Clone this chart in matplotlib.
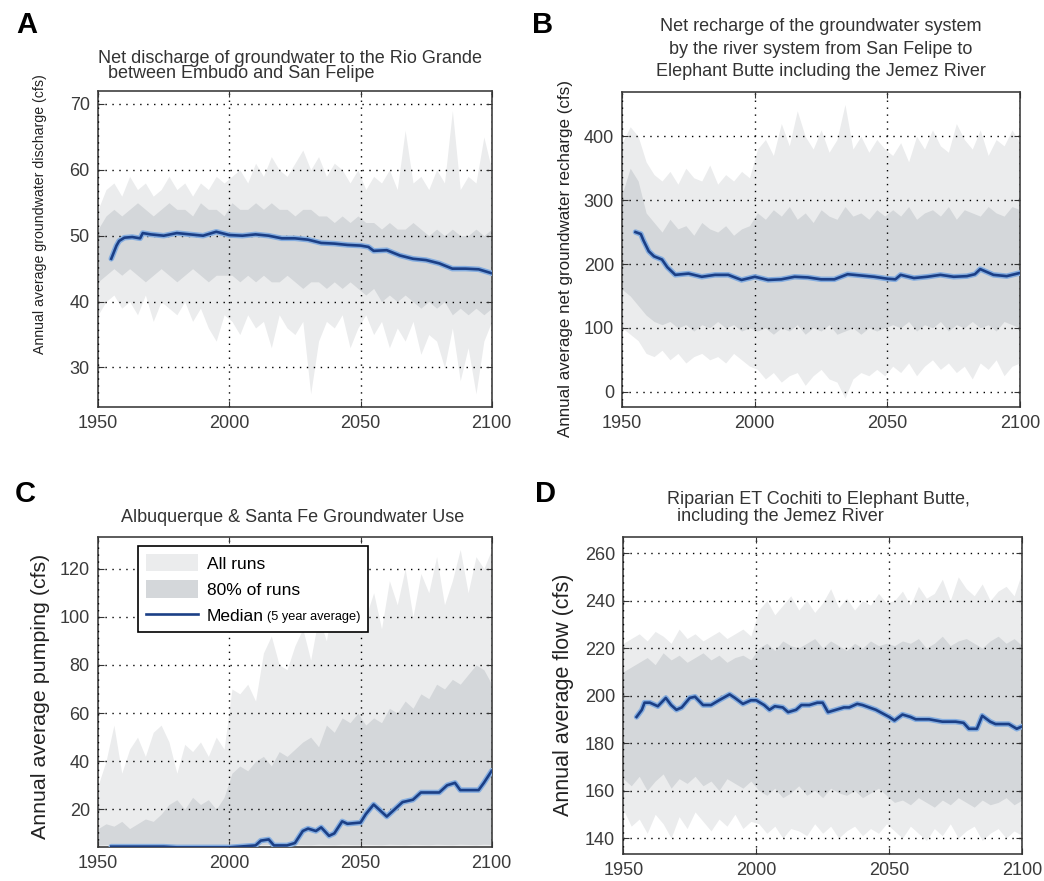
import matplotlib
matplotlib.use("Agg")
import matplotlib.pyplot as plt
import numpy as np

plt.rcParams["font.family"] = ["Liberation Sans", "DejaVu Sans"]

# band years (every 3 years)
years = np.arange(1950, 2101, 3)

# ---- panel A: net discharge of groundwater (cfs)
a_all_hi = [54, 57, 58, 56, 59, 57, 58, 56, 57, 59, 57, 58, 56, 58, 57, 59, 58,
            59, 60, 58, 61, 59, 62, 60, 59, 61, 63, 60, 62, 59, 61, 60, 58, 60,
            57, 59, 58, 60, 57, 66, 58, 59, 57, 60, 58, 69, 57, 59, 58, 65, 60]
a_all_lo = [38, 40, 41, 39, 40, 38, 41, 37, 40, 39, 38, 40, 37, 39, 36, 34, 38,
            37, 35, 38, 36, 37, 33, 38, 36, 35, 37, 26, 34, 37, 36, 38, 33, 36,
            38, 35, 37, 33, 36, 34, 37, 32, 35, 34, 30, 36, 28, 33, 26, 34, 37]
a_p90 = [51, 53, 54, 53, 54, 55, 54, 53, 54, 55, 54, 54, 53, 55, 54, 54, 53,
         55, 54, 54, 55, 54, 55, 54, 54, 53, 54, 54, 53, 53, 52, 53, 52, 53,
         52, 52, 51, 52, 51, 51, 52, 51, 50, 51, 50, 51, 50, 50, 51, 50, 51]
a_p10 = [43, 44, 45, 44, 45, 44, 43, 44, 45, 44, 43, 44, 45, 44, 43, 44, 44,
         44, 43, 44, 43, 44, 43, 43, 44, 43, 42, 43, 43, 42, 43, 42, 43, 42,
         41, 42, 40, 41, 40, 41, 40, 39, 40, 39, 40, 38, 39, 38, 39, 38, 39]
a_med_yr = [1955, 1956, 1957, 1958, 1960, 1963, 1966, 1967, 1970, 1975, 1980, 1985,
            1990, 1995, 2000, 2005, 2010, 2015, 2020, 2025, 2030, 2035, 2040, 2045,
            2050, 2053, 2055, 2060, 2065, 2070, 2075, 2080, 2085, 2090, 2095, 2100]
a_med = [46.5, 47.5, 48.5, 49.2, 49.7, 49.8, 49.6, 50.4, 50.2, 50.0, 50.4, 50.2,
         50.0, 50.6, 50.1, 50.0, 50.2, 50.0, 49.6, 49.6, 49.4, 48.9, 48.8, 48.6,
         48.5, 48.3, 47.7, 47.8, 47.0, 46.5, 46.3, 45.8, 45.0, 45.0, 44.9, 44.3]

# ---- panel B: net recharge (cfs)
b_all_hi = [390, 415, 400, 360, 340, 330, 345, 325, 350, 335, 330, 355, 325, 340, 330, 345, 335,
            380, 395, 370, 420, 385, 440, 400, 380, 410, 375, 395, 450, 380, 400, 375, 395, 380,
            370, 390, 360, 400, 380, 410, 385, 375, 420, 395, 380, 410, 370, 395, 385, 410, 390]
b_all_lo = [100, 90, 80, 60, 55, 65, 50, 60, 45, 55, 60, 50, 55, 45, 60, 50, 40,
            35, 20, 30, 15, 25, 30, 10, 25, 35, 20, 15, -10, 20, 30, 25, 35, 25,
            40, 30, 45, 25, 40, 50, 35, 45, 30, 40, 20, 45, 35, 50, 25, 40, 45]
b_p90 = [310, 350, 330, 280, 265, 250, 270, 255, 260, 245, 265, 255, 250, 260, 245, 255, 260,
         280, 270, 285, 275, 290, 270, 280, 265, 285, 275, 270, 290, 275, 280, 270, 285, 275,
         285, 275, 290, 270, 280, 285, 275, 290, 270, 285, 280, 275, 290, 280, 275, 290, 285]
b_p10 = [160, 150, 135, 120, 110, 105, 110, 100, 105, 95, 105, 100, 110, 100, 105, 95, 100,
         95, 100, 90, 100, 95, 105, 90, 100, 95, 105, 90, 95, 100, 90, 100, 95, 100,
         105, 100, 110, 95, 105, 100, 110, 95, 105, 100, 110, 100, 105, 95, 110, 105, 100]
b_med_yr = [1955, 1957, 1958, 1960, 1962, 1965, 1967, 1970, 1975, 1980, 1985, 1990,
            1995, 2000, 2005, 2010, 2015, 2020, 2025, 2030, 2035, 2040, 2045, 2050,
            2053, 2055, 2060, 2065, 2070, 2075, 2080, 2083, 2085, 2090, 2095, 2100]
b_med = [250, 247, 237, 220, 212, 207, 195, 183, 185, 180, 183, 183,
         175, 180, 175, 176, 180, 179, 176, 176, 184, 182, 180, 177,
         176, 183, 178, 180, 183, 180, 181, 184, 192, 183, 181, 186]

# ---- panel C: Albuquerque & Santa Fe pumping (cfs)
c_all_hi = [30, 40, 55, 35, 45, 50, 42, 52, 55, 48, 35, 47, 44, 48, 42, 50, 45,
            70, 68, 72, 65, 85, 92, 80, 78, 88, 95, 82, 100, 90, 110, 95, 100, 105,
            100, 110, 95, 115, 105, 120, 100, 118, 110, 125, 105, 115, 128, 110, 125, 120, 128]
c_all_lo = [3.8, 3.8, 3.9, 3.8, 3.9, 3.8, 3.8, 3.9, 3.8, 3.9, 3.8, 3.8, 3.9, 3.8, 3.9, 3.8, 3.8,
            3.9, 3.8, 3.8, 3.9, 3.8, 3.9, 3.8, 3.8, 3.9, 3.8, 3.9, 3.8, 3.8, 3.9, 3.8, 3.9,
            3.8, 3.8, 3.9, 3.8, 3.9, 3.8, 3.8, 3.9, 3.8, 3.9, 3.8, 3.8, 3.9, 3.8, 3.9, 3.8, 3.8, 3.9]
c_p90 = [12, 14, 13, 15, 12, 14, 16, 15, 18, 22, 24, 20, 25, 22, 24, 20, 25,
         35, 38, 36, 40, 42, 38, 44, 42, 45, 48, 50, 46, 55, 52, 58, 56, 60,
         55, 58, 56, 62, 60, 65, 62, 68, 66, 72, 70, 74, 72, 76, 80, 78, 72]
c_p10 = [5.2, 5.3, 5.2, 5.4, 5.2, 5.3, 5.2, 5.4, 5.3, 5.2, 5.3, 5.4, 5.2, 5.3, 5.2, 5.4, 5.3,
         5.4, 5.3, 5.5, 5.4, 5.3, 5.5, 5.4, 5.3, 5.5, 5.4, 5.3, 5.5, 5.4, 5.3, 5.5, 5.4,
         5.3, 5.5, 5.4, 5.3, 5.5, 5.4, 5.3, 5.5, 5.4, 5.3, 5.5, 5.4, 5.3, 5.5, 5.4, 5.3, 5.5, 5.4]
c_med_yr = [1955, 1975, 1980, 2000, 2010, 2012, 2015, 2017, 2022, 2025, 2028, 2030,
            2033, 2035, 2038, 2040, 2043, 2045, 2050, 2052, 2055, 2058, 2060, 2063,
            2066, 2070, 2073, 2080, 2083, 2086, 2088, 2095, 2097, 2100]
c_med = [4.5, 4.5, 4.2, 4.2, 5.0, 7.0, 7.5, 5.0, 5.0, 6.0, 11.0, 12.0,
         11.0, 12.5, 9.0, 10.0, 15.0, 14.0, 14.5, 18.0, 22.0, 19.0, 17.0, 20.0,
         23.0, 24.0, 27.0, 27.0, 30.0, 31.0, 28.0, 28.0, 31.0, 36.0]

# ---- panel D: riparian ET (cfs)
d_all_hi = [222, 224, 226, 223, 227, 225, 222, 228, 224, 226, 223, 225, 227, 224, 226, 228, 225,
            236, 240, 234, 238, 242, 236, 240, 235, 239, 245, 237, 241, 236, 240, 238, 243, 239,
            240, 244, 238, 246, 241, 243, 249, 240, 250, 245, 242, 247, 240, 244, 246, 242, 252]
d_all_lo = [152, 145, 148, 142, 150, 146, 140, 149, 144, 151, 147, 143, 148, 145, 150, 144, 147,
            146, 142, 145, 140, 144, 143, 141, 146, 142, 145, 140, 143, 145, 141, 144, 142, 146,
            143, 140, 145, 142, 139, 144, 141, 146, 140, 143, 145, 139, 142, 144, 140, 143, 141]
d_p90 = [210, 212, 214, 216, 213, 218, 215, 217, 214, 216, 218, 215, 217, 214, 216, 217, 215,
         220, 222, 219, 223, 221, 220, 222, 224, 220, 223, 221, 219, 222, 220, 223, 221, 222,
         221, 223, 222, 224, 220, 222, 225, 221, 223, 224, 222, 220, 223, 225, 222, 224, 221]
d_p10 = [165, 162, 166, 160, 164, 167, 161, 165, 163, 166, 162, 164, 160, 165, 163, 161, 164,
         160, 158, 161, 157, 159, 162, 158, 160, 157, 161, 159, 158, 160, 157, 159, 161, 158,
         155, 156, 154, 157, 155, 153, 156, 154, 157, 155, 153, 156, 154, 155, 157, 154, 156]
d_med_yr = [1955, 1957, 1958, 1960, 1963, 1966, 1968, 1970, 1972, 1975, 1977, 1980,
            1983, 1986, 1990, 1992, 1995, 1998, 2000, 2003, 2005, 2007, 2010, 2012,
            2015, 2017, 2020, 2023, 2025, 2027, 2030, 2033, 2035, 2038, 2040, 2045,
            2050, 2052, 2055, 2058, 2060, 2065, 2070, 2075, 2078, 2080, 2083, 2085,
            2088, 2090, 2095, 2098, 2100]
d_med = [191, 194, 197, 197, 195.5, 199, 196, 194, 195, 199, 199.5, 196,
         196, 198, 200.5, 199, 196.5, 198, 198, 196, 194, 195.5, 195, 193,
         194, 196, 196, 197, 197, 193, 194, 195, 195, 196.5, 196, 194,
         191, 189.5, 192, 191, 190, 190, 189, 189, 188.5, 186, 186, 191.5,
         189, 188, 188, 186, 187]

LIGHT = "#ebeced"
DARK = "#d4d7da"
BLUE = "#1b3f86"
HALO = "#86aee0"
W, H = 1044.0, 881.0

fig = plt.figure(figsize=(10.44, 8.81), dpi=100)

panels = [
    # letter, rect, data, ylim, yticks, ylabel, label size, label pos
    ("A", [0.094, 0.538, 0.377, 0.359], (a_all_hi, a_all_lo, a_p90, a_p10, a_med_yr, a_med),
     (24, 72), [30, 40, 50, 60, 70], "Annual average groundwater discharge (cfs)", 10.2, (-0.13, 0.61)),
    ("B", [0.596, 0.538, 0.381, 0.358], (b_all_hi, b_all_lo, b_p90, b_p10, b_med_yr, b_med),
     (-24, 470), [0, 100, 200, 300, 400], "Annual average net groundwater recharge (cfs)", 12.25, (-0.124, 0.47)),
    ("C", [0.094, 0.039, 0.377, 0.351], (c_all_hi, c_all_lo, c_p90, c_p10, c_med_yr, c_med),
     (4.5, 133), [20, 40, 60, 80, 100, 120], "Annual average pumping (cfs)", 15.4, (-0.122, 0.485)),
    ("D", [0.597, 0.031, 0.382, 0.359], (d_all_hi, d_all_lo, d_p90, d_p10, d_med_yr, d_med),
     (133.4, 266.6), [140, 160, 180, 200, 220, 240, 260], "Annual average flow (cfs)", 15.5, (-0.123, 0.503)),
]

axes = {}
for letter, rect, data, ylim, yticks, ylabel, lsize, lpos in panels:
    all_hi, all_lo, p90, p10, med_yr, med = data
    ax = fig.add_axes(rect)
    axes[letter] = ax
    ax.fill_between(years, all_lo, all_hi, color=LIGHT, lw=0, label="All runs")
    ax.fill_between(years, p10, p90, color=DARK, lw=0, label="80% of runs")
    ax.plot(med_yr, med, color=HALO, lw=4, solid_capstyle="round", zorder=3)
    ax.plot(med_yr, med, color=BLUE, lw=1.9, zorder=4, label="Median")
    ax.set_xlim(1950, 2100)
    ax.set_ylim(*ylim)
    ax.set_xticks([1950, 2000, 2050, 2100])
    ax.set_yticks(yticks)
    ax.grid(True, color="black", linestyle=(0, (1, 4)), linewidth=1.0)
    ax.set_axisbelow(False)
    ax.tick_params(direction="in", top=True, right=True, labelsize=13,
                   labelcolor="#3a3a3a", color="#333333", length=4, pad=6)
    for s in ax.spines.values():
        s.set_color("#404040")
        s.set_linewidth(1.2)
    ax.set_ylabel(ylabel, fontsize=lsize, color="#222222")
    ax.yaxis.set_label_coords(*lpos)

# titles, placed in pixel coordinates of the figure
title_kw = dict(fontsize=13, color="#333333", va="center")
fig.text(98 / W, 1 - 66 / H, "Net discharge of groundwater to the Rio Grande\n  between Embudo and San Felipe",
         ha="left", linespacing=0.92, **title_kw)
fig.text(821 / W, 1 - 49 / H, "Net recharge of the groundwater system\nby the river system from San Felipe to\n"
         "Elephant Butte including the Jemez River", ha="center", multialignment="center",
         linespacing=1.45, **title_kw)
fig.text(293 / W, 1 - 517 / H, "Albuquerque & Santa Fe Groundwater Use", ha="center", **title_kw)
fig.text(667 / W, 1 - 508 / H, "Riparian ET Cochiti to Elephant Butte,\n  including the Jemez River",
         ha="left", linespacing=0.97, **title_kw)

# panel letters
for letter, x, y in [("A", 0.016, 0.988), ("B", 0.510, 0.988), ("C", 0.014, 0.455), ("D", 0.512, 0.455)]:
    fig.text(x, y, letter, fontsize=21, fontweight="bold", ha="left", va="top")

# legend in panel C, frame stretched to the reference width
leg = axes["C"].legend(loc="upper left", bbox_to_anchor=(0.1015, 0.5, 0.584, 0.471), mode="expand",
                       frameon=True, fancybox=False, edgecolor="black", fontsize=12.5,
                       handlelength=3.0, handleheight=1.15, labelspacing=0.5, borderpad=0.45,
                       handletextpad=0.5, borderaxespad=0)
leg.get_frame().set_linewidth(1.2)
leg.get_frame().set_alpha(1)
fig.canvas.draw()
bb = leg.get_texts()[2].get_window_extent()
inv = fig.transFigure.inverted()
x1, y0 = inv.transform((bb.x1 + 3, bb.y0 + 4))
fig.text(x1, y0, "(5 year average)", fontsize=9.2, ha="left", va="baseline")

fig.savefig("out.png", dpi=100)
